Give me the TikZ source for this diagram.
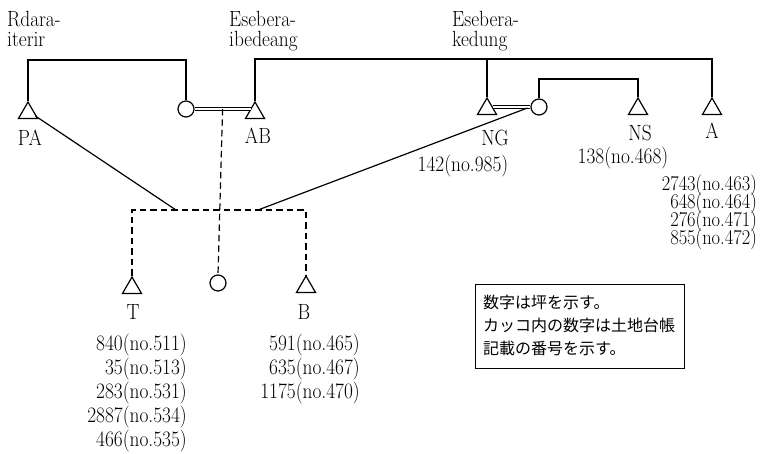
\documentclass[tikz,border=0pt]{standalone}
\usepackage{fontspec}
\newfontfamily\jafont{Noto Sans CJK JP}
\usetikzlibrary{shapes.geometric,calc}
\newcommand\tightlines{\lineskiplimit=-100pt\relax\lineskip=0pt\relax}
\newcommand\tx[1]{\scalebox{0.88}[1]{#1}}
\begin{document}
\begin{tikzpicture}[x=1pt,y=-1pt,
  every node/.style={font=\fontsize{22}{24}\selectfont\tightlines, inner sep=0pt},
  ln/.style={line width=1.2pt},
  dsh/.style={line width=1.2pt, dash pattern=on 6.5pt off 4pt},
  dbl/.style={line width=0.9pt, double, double distance=2.2pt},
  tri/.style={draw, line width=1.2pt, regular polygon, regular polygon sides=3, minimum size=22pt, inner sep=0pt},
  cir/.style={draw, line width=1.2pt, circle, minimum size=16pt, inner sep=0pt},
  valblk/.style={anchor=north east, align=right},
  tightblk/.style={anchor=north east, align=right, font=\fontsize{21}{18}\selectfont\tightlines},
  hdr/.style={anchor=north west, align=left, font=\fontsize{22}{20}\selectfont\tightlines},
  jtxt/.style={font=\jafont\fontsize{16}{23}\selectfont, anchor=west}]
\useasboundingbox (0,0) rectangle (761,454);
% headers
\node[hdr] (h1) at (7,11) {\tx{Rdara-}\\\tx{iterir}};
\node[hdr] (h2) at (229,11) {\tx{Esebera-}\\\tx{ibedeang}};
\node[hdr] (h3) at (452,11) {\tx{Esebera-}\\\tx{kedung}};
% symbols
\node[tri] (PA) at (28,113) {};
\node[cir] (C1) at (186,109) {};
\node[tri] (AB) at (255,113) {};
\node[tri] (NG) at (487,109) {};
\node[cir] (C2) at (539,107) {};
\node[tri] (NS) at (638,109) {};
\node[tri] (A) at (712,109) {};
\node[tri] (T) at (132,288) {};
\node[cir] (C3) at (218,283) {};
\node[tri] (B) at (306,287) {};
% helper coordinates
\coordinate (y1) at (0,60);
\coordinate (y2) at (0,59);
\coordinate (y3) at (0,79);
\coordinate (hy) at (0,210);
\coordinate (J1) at (176,210);
\coordinate (J2) at (258,210);
\coordinate (E1) at ($(AB.corner 1)!0.42!(AB.corner 2)$);
\coordinate (E2) at ($(NG.corner 1)!0.545!(NG.corner 3)$);
% solid brackets
\draw[ln] (PA.corner 1) -- (PA.corner 1 |- y1) -| (C1.north);
\draw[ln] (AB.corner 1) -- (AB.corner 1 |- y2) -| (A.corner 1);
\draw[ln] (NG.corner 1) -- (NG.corner 1 |- y2);
\draw[ln] (C2.north) -- (C2.north |- y3) -| (NS.corner 1);
% marriage double lines
\draw[dbl] (C1.east) -- (C1.east -| E1);
\draw[dbl] (E2) -- (E2 -| C2.west);
\coordinate (M1) at ($(C1.east)!0.5!(C1.east -| E1)$);
% dashed descent
\draw[dsh] (M1) -- (C3.north);
\draw[dsh] (T.corner 1) -- (T.corner 1 |- hy) -- (B.corner 1 |- hy) -- (B.corner 1);
% diagonal lines
\draw[ln] ($(PA.corner 3)+(-3,-3)$) -- (J1);
\draw[ln] (J2) -- ($(C2.west)+(-3,1)$);
% labels
\node (lPA) at (30,138) {\tx{PA}};
\node (lAB) at (258,136) {\tx{AB}};
\node (lNG) at (495,138) {\tx{NG}};
\node (lNS) at (640,133) {\tx{NS}};
\node (lA) at (712,131) {\tx{A}};
\node (lT) at (133,312) {\tx{T}};
\node (lB) at (304,312) {\tx{B}};
\node (vNG) at (463,166) {\tx{142(no.985)}};
\node (vNS) at (623,158) {\tx{138(no.468)}};
\node[tightblk] (vA) at (757,175) {\tx{2743(no.463)}\\\tx{648(no.464)}\\\tx{276(no.471)}\\\tx{855(no.472)}};
\node[valblk] (vT) at (187,333.5) {\tx{840(no.511)}\\\tx{35(no.513)}\\\tx{283(no.531)}\\\tx{2887(no.534)}\\\tx{466(no.535)}};
\node[valblk] (vB) at (360,333.5) {\tx{591(no.465)}\\\tx{635(no.467)}\\\tx{1175(no.470)}};
% legend
\draw[line width=0.8pt] (475,284) rectangle (684,368);
\node[jtxt] (L1) at (483,302) {数字は坪を示す。};
\node[jtxt] (L2) at (483,325) {カッコ内の数字は土地台帳};
\node[jtxt] (L3) at (483,348) {記載の番号を示す。};
\end{tikzpicture}
\end{document}
